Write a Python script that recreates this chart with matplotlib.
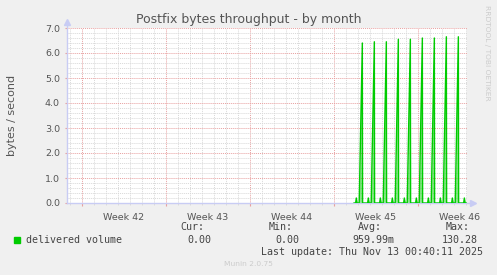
import numpy as np
import matplotlib.pyplot as plt
from matplotlib.patches import Rectangle
from matplotlib.transforms import blended_transform_factory

W, H = 497, 275

# x is in days counted from the Monday of week 42
week_labels = ['Week 42', 'Week 43', 'Week 44', 'Week 45', 'Week 46']
week_starts = [0, 7, 14, 21, 28]

# delivered volume (bytes / second)
data_start, data_end = 22.69, 32.03
small_days = [22.88, 23.88, 24.88, 25.88, 26.88, 27.88, 28.88, 29.88, 30.88, 31.88]
small_vals = [0.20, 0.20, 0.20, 0.20, 0.20, 0.20, 0.20, 0.20, 0.20, 0.20]
peak_days = [23.38, 24.38, 25.38, 26.38, 27.38, 28.38, 29.38, 30.38, 31.38]
peak_vals = [6.40, 6.45, 6.45, 6.55, 6.55, 6.60, 6.60, 6.65, 6.65]

legend_name = 'delivered volume'
stat_names = ['Cur:', 'Min:', 'Avg:', 'Max:']
stat_vals = ['0.00', '0.00', '959.99m', '130.28']
last_update = 'Last update: Thu Nov 13 00:40:11 2025'

# build the series: each event is a short rise and fall
pts = [(data_start, 0.0)]
for d, v in zip(small_days, small_vals):
    pts += [(d - 0.06, 0.0), (d, v), (d + 0.06, 0.0)]
for d, v in zip(peak_days, peak_vals):
    pts += [(d - 0.26, 0.0), (d, v), (d + 0.02, 0.0)]
pts.append((data_end, 0.0))
pts.sort()
t = np.array([p[0] for p in pts])
y = np.array([p[1] for p in pts])

green = '#00CC00'
grey = '#555555'
mgrid = '#E8A0A0'
grid = '#D8D8D8'
axis_c = '#C8CCF4'

fig = plt.figure(figsize=(W / 100, H / 100), dpi=100, facecolor='#F0F0F0')
ax = fig.add_axes([67 / W, (H - 203) / H, 400 / W, 175 / H])
ax.set_facecolor('white')

ax.set_xlim(-1.225, 32.1)
ax.set_ylim(0, 7)

# grid
ax.set_yticks(np.arange(0, 7.01, 1.0))
ax.set_yticks(np.arange(0, 7.01, 0.2), minor=True)
ax.set_xticks(week_starts)
ax.set_xticks(np.arange(-1, 33, 1), minor=True)
ax.set_xticklabels([])
ax.grid(which='minor', color=grid, linestyle=(0, (1, 1)), linewidth=0.7)
ax.grid(which='major', color=mgrid, linestyle=(0, (1, 1)), linewidth=0.7)
ax.set_axisbelow(True)
ax.set_yticklabels(['%.1f' % v for v in np.arange(0, 7.01, 1.0)])
ax.tick_params(axis='y', which='major', length=1.5, color=mgrid, pad=3.6,
               labelsize=6.8, labelcolor=grey)
ax.tick_params(axis='x', which='major', length=2, color=mgrid)
ax.tick_params(which='minor', length=1.5, color=grid)
ax.tick_params(axis='y', which='minor', length=0)
for s in ax.spines.values():
    s.set_visible(False)

# week labels centred in each week
tr = blended_transform_factory(ax.transData, ax.transAxes)
for d, lab in zip(week_starts, week_labels):
    ax.text(d + 3.5, -0.055, lab, transform=tr, ha='center', va='top',
            fontsize=6.8, color=grey)

# axes with arrows
ax.plot([0, 0], [0, 1.03], color=axis_c, lw=1, transform=ax.transAxes, clip_on=False)
ax.plot([0, 1.012], [0, 0], color=axis_c, lw=1, transform=ax.transAxes, clip_on=False)
ax.plot([0], [1.035], marker='^', ms=4, color=axis_c, transform=ax.transAxes, clip_on=False)
ax.plot([1.015], [0], marker='>', ms=4, color=axis_c, transform=ax.transAxes, clip_on=False)

# data
ax.fill_between(t, 0, y, color=green, alpha=0.45, linewidth=0)
ax.plot(t, y, color=green, lw=1.0)

def ftext(px, py, s, **kw):
    fig.text(px / W, 1 - py / H, s, **kw)

ftext(248.5, 19, 'Postfix bytes throughput - by month', ha='center', va='center',
      fontsize=9, color=grey)
ftext(12, 115, 'bytes / second', ha='center', va='center', rotation=90,
      fontsize=8, color=grey)
ftext(487.5, 53, 'RRDTOOL / TOBI OETIKER', ha='center', va='center', rotation=270,
      fontsize=5.4, color='#CCCCCC')

mono = dict(family='DejaVu Sans Mono', fontsize=7.2, color='#444444', va='center')
fig.patches.append(Rectangle((14 / W, 1 - 243 / H), 6 / W, 6 / H, color=green,
                             transform=fig.transFigure, figure=fig))
ftext(26, 240, legend_name, ha='left', **mono)
for rx, name in zip([204, 292.7, 381.7, 470], stat_names):
    ftext(rx, 227, name, ha='right', **mono)
for rx, val in zip([211, 299.3, 394.3, 477.3], stat_vals):
    ftext(rx, 240, val, ha='right', **mono)
ftext(483, 252, last_update, ha='right', **mono)
ftext(248, 263.5, 'Munin 2.0.75', ha='center', va='center', fontsize=5.4, color='#CCCCCC')

fig.savefig('out.png', dpi=100, facecolor=fig.get_facecolor())
